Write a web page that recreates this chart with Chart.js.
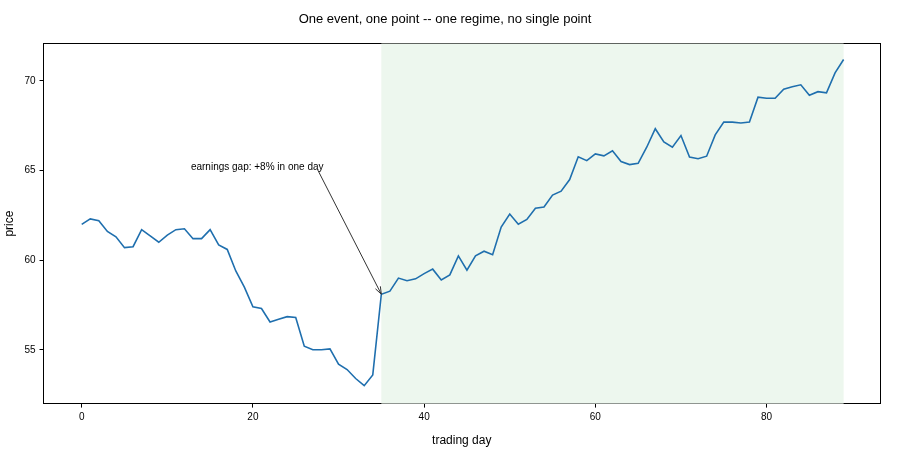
<!DOCTYPE html>
<html>
<head>
<meta charset="utf-8">
<script src="https://cdn.jsdelivr.net/npm/chart.js@4/dist/chart.umd.min.js"></script>
<style>
  body { margin: 0; background: #fff; }
  #wrap { width: 900px; height: 450px; }
</style>
</head>
<body>
<div id="wrap"><canvas id="c"></canvas></div>
<script>
// trading day 0..89
const days = Array.from({ length: 90 }, (_, i) => i);
const prices = [
  62.0, 62.3, 62.2, 61.6, 61.3, 60.7, 60.75, 61.7, 61.35, 61.0,
  61.4, 61.7, 61.75, 61.2, 61.2, 61.7, 60.85, 60.6, 59.4, 58.5,
  57.4, 57.3, 56.55, 56.7, 56.85, 56.8, 55.2, 55.0, 55.0, 55.05,
  54.2, 53.9, 53.4, 53.0, 53.6, 58.1, 58.27, 59.0, 58.85, 58.96,
  59.25, 59.5, 58.9, 59.18, 60.24, 59.44, 60.24, 60.5, 60.3, 61.85,
  62.57, 62.0, 62.27, 62.9, 62.97, 63.63, 63.85, 64.5, 65.77, 65.55,
  65.93, 65.82, 66.1, 65.5, 65.33, 65.4, 66.3, 67.33, 66.6, 66.3,
  66.95, 65.75, 65.66, 65.8, 66.99, 67.7, 67.7, 67.65, 67.7, 69.09,
  69.03, 69.03, 69.54, 69.67, 69.78, 69.2, 69.4, 69.33, 70.45, 71.19
];
const xTicks = [0, 20, 40, 60, 80];
const yTicks = [55, 60, 65, 70];
const regimeStart = 35, regimeEnd = 89;
const note = { text: "earnings gap: +8% in one day", x: 20.5, y: 65.2, ax: 27.5, ay: 65.1 };

const FONT = '"Liberation Sans", Arial, sans-serif';

// shaded regime + annotation arrow
const overlay = {
  id: 'overlay',
  beforeDatasetsDraw(chart) {
    const { ctx, chartArea: a, scales: { x } } = chart;
    ctx.save();
    ctx.fillStyle = '#edf7ee';
    const x0 = x.getPixelForValue(regimeStart), x1 = x.getPixelForValue(regimeEnd);
    ctx.fillRect(x0, a.top, x1 - x0, a.bottom - a.top);
    ctx.restore();
  },
  afterDatasetsDraw(chart) {
    const { ctx, scales: { x, y } } = chart;
    ctx.save();
    ctx.font = '10px ' + FONT;
    ctx.fillStyle = '#000';
    ctx.textAlign = 'center';
    ctx.textBaseline = 'middle';
    ctx.fillText(note.text, x.getPixelForValue(note.x), y.getPixelForValue(note.y));
    const sx = x.getPixelForValue(note.ax), sy = y.getPixelForValue(note.ay);
    const ex = x.getPixelForValue(regimeStart), ey = y.getPixelForValue(prices[regimeStart]);
    ctx.strokeStyle = '#333';
    ctx.lineWidth = 1;
    ctx.beginPath(); ctx.moveTo(sx, sy); ctx.lineTo(ex, ey); ctx.stroke();
    const ang = Math.atan2(ey - sy, ex - sx);
    ctx.beginPath();
    ctx.moveTo(ex - 8 * Math.cos(ang - 0.35), ey - 8 * Math.sin(ang - 0.35));
    ctx.lineTo(ex, ey);
    ctx.lineTo(ex - 8 * Math.cos(ang + 0.35), ey - 8 * Math.sin(ang + 0.35));
    ctx.stroke();
    ctx.restore();
  }
};

const tickFont = { family: FONT, size: 10 };
const labelFont = { family: FONT, size: 12 };

new Chart(document.getElementById('c'), {
  type: 'line',
  data: {
    datasets: [{
      data: days.map((d, i) => ({ x: d, y: prices[i] })),
      borderColor: '#1f6fae',
      borderWidth: 1.6,
      pointRadius: 0,
      tension: 0,
      fill: false
    }]
  },
  options: {
    responsive: true,
    maintainAspectRatio: false,
    animation: false,
    layout: { padding: { left: 2, right: 12, top: 2, bottom: 2 } },
    plugins: {
      legend: { display: false },
      tooltip: { enabled: false },
      title: {
        display: true,
        text: 'One event, one point -- one regime, no single point',
        color: '#000',
        font: { family: FONT, size: 13, weight: 'normal' },
        padding: { top: 10, bottom: 8 }
      }
    },
    scales: {
      x: {
        type: 'linear',
        min: -4.46, max: 93.25,
        afterBuildTicks: s => { s.ticks = xTicks.map(v => ({ value: v })); },
        ticks: { color: '#000', font: tickFont, padding: 4 },
        grid: { drawOnChartArea: false, color: '#000', tickLength: 4 },
        border: { color: '#000', width: 1 },
        title: { display: true, text: 'trading day', color: '#000', font: labelFont, padding: { top: 6, bottom: 0 } }
      },
      y: {
        min: 52.0, max: 72.08,
        afterBuildTicks: s => { s.ticks = yTicks.map(v => ({ value: v })); },
        ticks: { color: '#000', font: tickFont, padding: 4 },
        grid: { drawOnChartArea: false, color: '#000', tickLength: 4 },
        border: { color: '#000', width: 1 },
        title: { display: true, text: 'price', color: '#000', font: labelFont, padding: { top: 0, bottom: 4 } }
      },
      x2: { position: 'top', display: true, min: 0, max: 1, ticks: { display: false }, grid: { display: false }, border: { color: '#000' } },
      y2: { position: 'right', display: true, min: 0, max: 1, ticks: { display: false }, grid: { display: false }, border: { color: '#000' } }
    }
  },
  plugins: [overlay]
});
</script>
</body>
</html>
